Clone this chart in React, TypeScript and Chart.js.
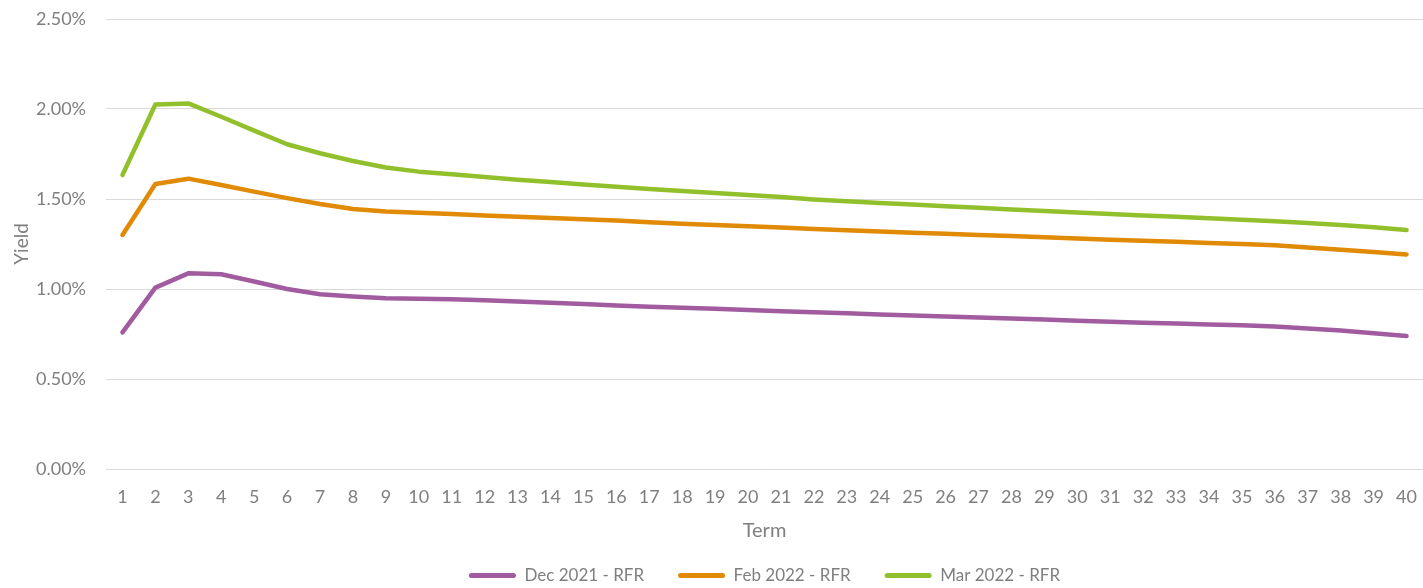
import React, { useEffect, useRef } from "react";
import { Chart, registerables } from "chart.js";

Chart.register(...registerables);

const terms: string[] = Array.from({ length: 40 }, (_, i) => String(i + 1));

const dec2021: number[] = [
  0.759, 1.008, 1.087, 1.082, 1.042, 1.0, 0.971, 0.958, 0.949, 0.946,
  0.943, 0.937, 0.93, 0.923, 0.916, 0.909, 0.902, 0.896, 0.89, 0.884,
  0.877, 0.871, 0.865, 0.859, 0.853, 0.847, 0.841, 0.836, 0.83, 0.824,
  0.818, 0.813, 0.808, 0.803, 0.798, 0.791, 0.781, 0.769, 0.754, 0.739,
];

const feb2022: number[] = [
  1.3, 1.583, 1.613, 1.578, 1.541, 1.505, 1.472, 1.444, 1.43, 1.424,
  1.417, 1.409, 1.402, 1.395, 1.388, 1.381, 1.371, 1.363, 1.356, 1.348,
  1.341, 1.334, 1.326, 1.319, 1.313, 1.307, 1.3, 1.294, 1.287, 1.281,
  1.274, 1.268, 1.262, 1.256, 1.25, 1.243, 1.231, 1.218, 1.205, 1.192,
];

const mar2022: number[] = [
  1.633, 2.025, 2.031, 1.957, 1.88, 1.804, 1.754, 1.711, 1.675, 1.652,
  1.637, 1.622, 1.607, 1.594, 1.581, 1.568, 1.556, 1.544, 1.533, 1.522,
  1.511, 1.497, 1.487, 1.478, 1.469, 1.46, 1.451, 1.442, 1.434, 1.425,
  1.417, 1.409, 1.401, 1.393, 1.385, 1.377, 1.367, 1.356, 1.343, 1.328,
];

const seriesNames: string[] = ["Dec 2021 - RFR", "Feb 2022 - RFR", "Mar 2022 - RFR"];
const seriesColors: string[] = ["#A05C9F", "#E08A05", "#92C02C"];

const FONT = "Lato, 'Open Sans', sans-serif";
const GREY = "#7f7f7f";

export default function App() {
  const ref = useRef<HTMLCanvasElement | null>(null);

  useEffect(() => {
    if (!ref.current) return;
    const allData = [dec2021, feb2022, mar2022];
    const chart = new Chart(ref.current, {
      type: "line",
      data: {
        labels: terms,
        datasets: allData.map((d, i) => ({
          label: seriesNames[i],
          data: d,
          borderColor: seriesColors[i],
          backgroundColor: seriesColors[i],
          borderWidth: 4.5,
          pointRadius: 0,
          pointHoverRadius: 0,
          tension: 0,
          borderCapStyle: "round" as const,
          borderJoinStyle: "round" as const,
          fill: false,
        })),
      },
      options: {
        responsive: false,
        animation: false,
        layout: { padding: { top: 19, left: 0, right: 0, bottom: 0 } },
        plugins: {
          tooltip: { enabled: false },
          legend: {
            position: "bottom",
            fullSize: false,
            labels: {
              font: { family: FONT, size: 17 },
              color: GREY,
              boxWidth: 47,
              boxHeight: 5,
              padding: 34,
              useBorderRadius: true,
              borderRadius: 2.5,
              generateLabels: (c: any) =>
                Chart.defaults.plugins.legend.labels
                  .generateLabels(c)
                  .map((it: any, i: number) => ({
                    ...it,
                    fillStyle: seriesColors[i],
                    strokeStyle: seriesColors[i],
                    lineWidth: 0,
                  })),
            },
          },
        },
        scales: {
          x: {
            offset: true,
            grid: { display: false, drawTicks: false },
            border: { display: false },
            ticks: {
              color: GREY,
              font: { family: FONT, size: 18 },
              padding: 17,
              autoSkip: false,
              maxRotation: 0,
            },
            title: {
              display: true,
              text: "Term",
              color: GREY,
              font: { family: FONT, size: 20 },
              padding: { top: 0, bottom: -9.5 },
            },
            afterFit: (s: any) => {
              s.height = 64;
              s.paddingLeft = 0;
              s.paddingRight = 0;
            },
          },
          y: {
            min: 0,
            max: 2.5,
            grid: { color: "#d9d9d9", lineWidth: 1, drawTicks: false },
            border: { display: false },
            ticks: {
              stepSize: 0.5,
              color: GREY,
              font: { family: FONT, size: 18 },
              padding: 20,
              callback: (v: any) => Number(v).toFixed(2) + "%",
            },
            title: {
              display: true,
              text: "Yield",
              color: GREY,
              font: { family: FONT, size: 19 },
              padding: { top: 10.5, bottom: 0 },
            },
            afterFit: (s: any) => {
              s.width = 106;
              s.paddingTop = 0;
              s.paddingBottom = 0;
            },
          },
        },
      },
    });
    return () => chart.destroy();
  }, []);

  return (
    <div
      style={{
        position: "absolute",
        left: 0,
        top: 0,
        width: 1423,
        height: 588,
        overflow: "hidden",
        background: "#fff",
      }}
    >
      <canvas ref={ref} width={1423} height={594} style={{ display: "block" }} />
    </div>
  );
}
